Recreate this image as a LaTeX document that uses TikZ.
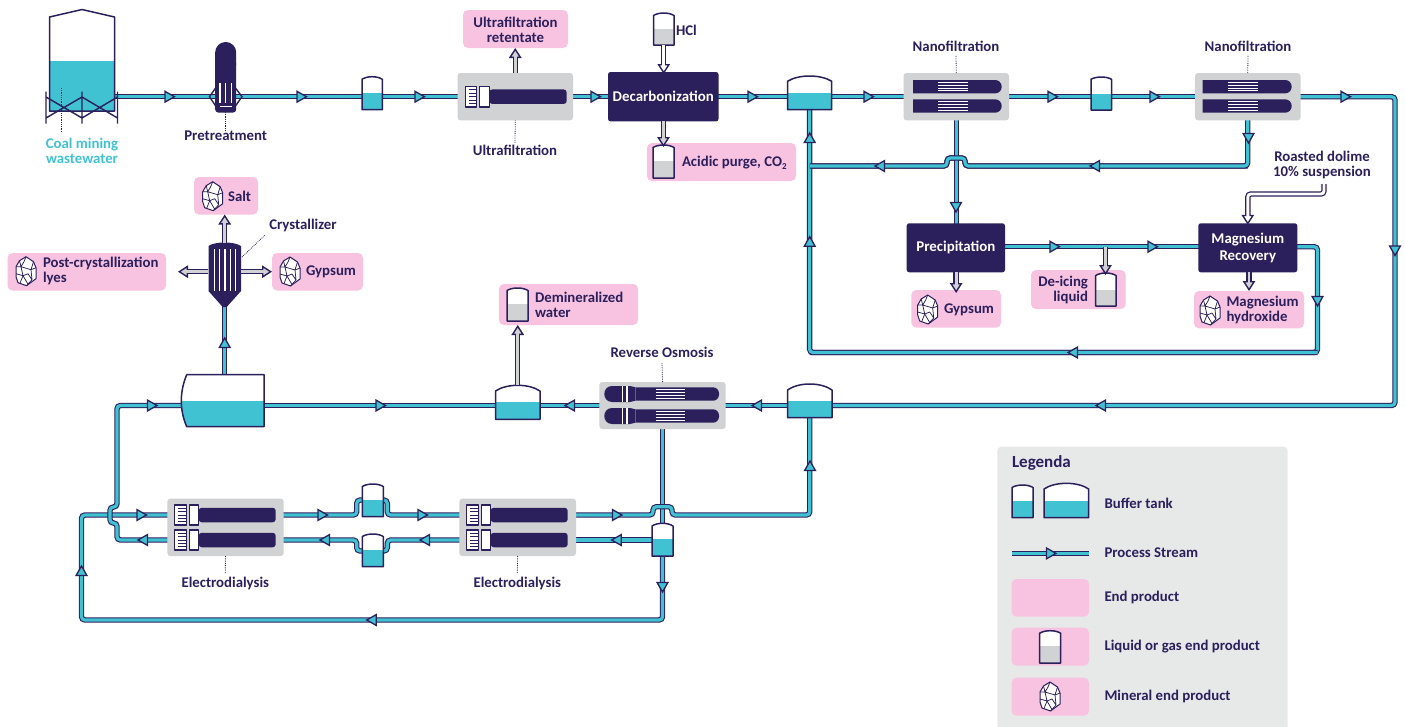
\documentclass[tikz,border=0pt]{standalone}
\usepackage{fontspec}
\setmainfont{Carlito}
\usetikzlibrary{arrows.meta,calc}
\definecolor{ink}{HTML}{2B1F5C}
\definecolor{aqua}{HTML}{41C2D3}
\definecolor{greyb}{HTML}{D1D2D3}
\definecolor{pinkb}{HTML}{F8C3E1}
\definecolor{legbg}{HTML}{E7E8E8}
\pgfdeclarelayer{bg}\pgfdeclarelayer{pipes}\pgfdeclarelayer{top}
\pgfsetlayers{bg,pipes,main,top}
\newcommand\lf{\bfseries\fontsize{14.8}{14.8}\selectfont}
\newcommand\wf{\bfseries\fontsize{14.9}{15.6}\selectfont}
\tikzset{
 ghost/.style={inner sep=0pt,outer sep=0pt},
 lbl/.style={ghost,text=ink,font=\lf,align=center},
 lbll/.style={ghost,text=ink,font=\lf,align=left,anchor=west},
 lblr/.style={ghost,text=ink,font=\lf,align=right,anchor=east},
 pinkbox/.style={ghost,fill=pinkb,rounded corners=5pt},
 greybox/.style={ghost,fill=greyb,rounded corners=3pt},
 darkbox/.style={ghost,fill=ink,rounded corners=2.5pt,text=white,font=\wf,align=center},
 legbox/.style={ghost,fill=legbg,rounded corners=4pt},
 pipeo/.style={draw=ink,line width=5.4pt,rounded corners=3.4pt},
 pipei/.style={draw=aqua,line width=3.2pt,rounded corners=3.4pt},
 tankline/.style={draw=ink,line width=1.5pt,line join=round},
 flowhead/.style={draw=ink,fill=aqua,line width=1.3pt,line join=miter},
 leader/.style={draw=ink,line width=.8pt,dash pattern=on .8pt off 1pt},
 thinink/.style={draw=ink,line width=1.4pt},
}
\newcommand\bx[7]{\pgfmathsetmacro\bw{#5-(#3)}\pgfmathsetmacro\bh{#6-(#4)}\pgfmathsetmacro\bcx{(#3+#5)/2}\pgfmathsetmacro\bcy{(#4+#6)/2}\node[#1,minimum width=\bw pt,minimum height=\bh pt] (#2) at (\bcx,\bcy) {#7};}
% name,x1,x2,ytop,yeave,ybot,ywater,pipey,fill
\newcommand\tank[9]{\pgfmathsetmacro\tcx{(#2+#3)/2}\pgfmathsetmacro\tw{#3-(#2)}\pgfmathsetmacro\th{2*(#6-(#8))}%
 \pgfmathsetmacro\ca{#2+.25*\tw}\pgfmathsetmacro\cb{#2+.75*\tw}\pgfmathsetmacro\cy{#5-(#5-(#4))/.75}%
 \node[ghost,minimum width=\tw pt,minimum height=\th pt] (#1) at (\tcx,#8) {};
 \coordinate (#1-top) at (\tcx,#4);
 \fill[white] (#2,#5) .. controls (\ca,\cy) and (\cb,\cy) .. (#3,#5) -- (#3,#6) -- (#2,#6) -- cycle;
 \fill[#9] (#2,#7) rectangle (#3,#6);
 \draw[tankline] (#2,#5) .. controls (\ca,\cy) and (\cb,\cy) .. (#3,#5) -- (#3,#6) -- (#2,#6) -- cycle;}
\newcommand\pipeO[1]{\begin{pgfonlayer}{pipes}\draw[pipeo] #1;\end{pgfonlayer}}
\newcommand\pipeI[1]{\begin{pgfonlayer}{pipes}\draw[pipei] #1;\end{pgfonlayer}}
\newcommand\pipe[1]{\pipeO{#1}\pipeI{#1}}
\newcommand\flowR[2]{\begin{pgfonlayer}{top}\pgfmathsetmacro\fb{#1-9.5}\draw[flowhead] (\fb,#2-5.4) -- (#1,#2) -- (\fb,#2+5.4) -- cycle;\end{pgfonlayer}}
\newcommand\flowL[2]{\begin{pgfonlayer}{top}\pgfmathsetmacro\fb{#1+9.5}\draw[flowhead] (\fb,#2-5.4) -- (#1,#2) -- (\fb,#2+5.4) -- cycle;\end{pgfonlayer}}
\newcommand\flowD[2]{\begin{pgfonlayer}{top}\pgfmathsetmacro\fb{#2-9.5}\draw[flowhead] (#1-5.4,\fb) -- (#1,#2) -- (#1+5.4,\fb) -- cycle;\end{pgfonlayer}}
\newcommand\flowU[2]{\begin{pgfonlayer}{top}\pgfmathsetmacro\fb{#2+9.5}\draw[flowhead] (#1-5.4,\fb) -- (#1,#2) -- (#1+5.4,\fb) -- cycle;\end{pgfonlayer}}
\newcommand\garrow[2]{\begin{pgfonlayer}{top}
 \draw[ink,line width=5.4pt,rounded corners=3pt,-{Triangle[length=10pt,width=12.5pt,fill=#1,line width=1.4pt]}] #2;
 \draw[#1,line width=2.9pt,rounded corners=3pt,shorten >=8pt] #2;\end{pgfonlayer}}
\newcommand\crystal[2]{\begin{scope}[shift={(#1,#2)},draw=ink,line width=.75pt,line join=round]
 \draw[fill=white,line width=1pt] (10,0) -- (17.5,5) -- (20,11) -- (20,22) -- (10.5,29) -- (2,26) -- (0,20) -- (0,10) -- (3.5,4) -- cycle;
 \draw (3.5,4) -- (5,10) -- (15,13) -- (17.5,5) (5,10) -- (0,10) (15,13) -- (20,11) (15,13) -- (16,23) -- (10.5,29) (5,10) -- (7,19) -- (12,27.5) (0,17) -- (7,19) -- (12,17) -- (16,23) (7,19) -- (4,26.5) (10,0) -- (8,5) -- (5,10);
 \end{scope}}
\newcommand\comb[4]{\draw[tankline,fill=white] (#1,#3) rectangle (#2,#4);
 \foreach \k in {1,...,5}{\pgfmathsetmacro\ty{#3+(#4-(#3))*\k/6}\draw[draw=ink,line width=1pt] (#1+3.5,\ty) -- (#2,\ty);}}
% name, comb x1,x2, white x1,x2, xend, yc
\newcommand\cmod[7]{\pgfmathsetmacro\mw{#6-(#5)}\pgfmathsetmacro\mx{(#5+#6)/2}%
 \node[ghost,fill=ink,rounded corners=3pt,minimum width=\mw pt,minimum height=14.5pt] (#1) at (\mx,#7) {};
 \comb{#2}{#3}{#7-10.2}{#7+10.2}
 \draw[tankline,fill=white] (#4,#7-10.2) rectangle (#5,#7+10.2);}
\newcommand\stripes[3]{\foreach \d in {-4.2,-1.4,1.4,4.2}{\draw[white,line width=1pt] (#1,#3+\d) -- (#2,#3+\d);}}
\newcommand\nfmod[3]{\fill[ink] (#1,#3-6.7) [rounded corners=6.6pt] -- (#2,#3-6.7) -- (#2,#3+6.7) [sharp corners] -- (#1,#3+6.7) -- cycle;}
\newcommand\romod[1]{\fill[ink] (612,#1-8) .. controls (607,#1-8) and (604.3,#1-4) .. (604.3,#1) .. controls (604.3,#1+4) and (607,#1+8) .. (612,#1+8) -- (630,#1+8) -- (635.5,#1+6.7) -- (635.5,#1-6.7) -- (630,#1-8) -- cycle;
 \fill[ink] (636,#1-6.7) -- (636,#1+6.7) [rounded corners=6pt] -- (719,#1+6.7) -- (719,#1-6.7) [sharp corners] -- cycle;
 \draw[white,line width=1.2pt] (622.7,#1-8) -- (622.7,#1+8) (626.9,#1-8) -- (626.9,#1+8);
 \stripes{655.7}{685}{#1}}
\begin{document}
\begin{tikzpicture}[x=1pt,y=-1pt]
\useasboundingbox (0,0) rectangle (1405,726);
\coordinate (lineP) at (0,246.7);
\coordinate (side) at (0,166);
\coordinate (ret) at (1317.5,352.5);
\coordinate (east) at (1395,96.7);
\coordinate (bot) at (81.5,620);
\coordinate (rowS) at (810,515);

% ---------- legend background
\begin{pgfonlayer}{bg}
\bx{legbox}{legend}{997.3}{446.7}{1287.7}{735}{}
\end{pgfonlayer}

% ---------- silo
\node[ghost,minimum width=65pt,minimum height=60pt] (silo) at (82,96.7) {};
\fill[white] (49.5,17) -- (82,9.5) -- (114.5,17) -- (114.5,111) -- (49.5,111) -- cycle;
\fill[aqua] (49.5,61) rectangle (114.5,111);
\draw[tankline] (49.5,17) -- (82,9.5) -- (114.5,17) -- (114.5,111) -- (49.5,111) -- cycle;
\draw[thinink] (46,91.5) -- (46,123.5) (82,91.5) -- (82,123.5) (117.5,91.5) -- (117.5,123.5)
 (46,97) -- (82,118) (46,118) -- (82,97) (82,97) -- (117.5,118) (82,118) -- (117.5,97);
\coordinate (siloL1) at (61,88); \coordinate (siloL2) at (61,133);
\begin{pgfonlayer}{top}\draw[leader] (siloL1) -- (siloL2);\end{pgfonlayer}
\node[ghost,text=aqua,font=\lf,align=center] (coal) at (82,151) {Coal mining\\wastewater};

% ---------- pretreatment
\node[ghost,minimum width=21pt,minimum height=110pt] (pre) at (225.7,96.7) {};
\coordinate (preL) at (225.7,112);
\draw[thinink] (217,86) -- (209.5,96.7) -- (217,108) (234,86) -- (242,96.7) -- (234,108);
\fill[ink,rounded corners=10.4pt] (215.2,75) -- (215.2,42) -- (236.2,42) -- (236.2,75) [sharp corners] -- cycle;
\fill[ink,rounded corners=3pt] (215.2,60) -- (215.2,112.5) -- (236.2,112.5) -- (236.2,60) [sharp corners] -- cycle;
\draw[white,line width=1.3pt] (220,83) -- (220,103) (225.7,83) -- (225.7,103) (231.5,83) -- (231.5,103);
\draw[white,line width=1.4pt] (219.5,106.3) -- (232,106.3);
\node[lbl] (preT) at (225.7,135.5) {Pretreatment};
\draw[leader] (preL) -- (preT.north);

% ---------- first row
\tank{t1}{362}{382.3}{76.7}{79.3}{109.7}{93}{96.7}{aqua}
\bx{greybox}{uf}{457.5}{73}{573}{120.4}{}
\cmod{ufm}{465.3}{476.7}{479.3}{489.3}{566.7}{96.7}
\node[lbl] (ufT) at (515,150.5) {Ultrafiltration};
\draw[leader] (uf.south) -- ($(ufT.north)+(0,-2)$);
\bx{pinkbox}{retb}{463}{10}{568}{48}{}
\node[lbl] (retT) at (515.5,29.5) {Ultrafiltration\\retentate};
\garrow{greyb}{(uf.north) -- (uf.north |- retb.south)}

\bx{darkbox}{decarb}{608}{72}{718.5}{121.4}{Decarbonization}
\tank{hcl}{653.5}{674}{13}{15.5}{45}{29}{30}{greyb}
\node[lbll] (hclT) at (676,30) {HCl};
\garrow{white}{(hcl.south) -- ($(hcl.south |- decarb.north)+(0,2)$)}
\bx{pinkbox}{acidb}{647}{143}{796}{181}{}
\tank{acid}{653}{674}{145}{147.5}{178}{161}{162}{greyb}
\node[lbll] (acidT) at (682,163) {Acidic purge, CO\raisebox{-2.5pt}{\fontsize{9}{9}\selectfont 2}};
\garrow{greyb}{(acid-top |- decarb.south) -- ($(acid-top)+(0,2)$)}

\tank{t2}{787.5}{831.7}{76}{81.3}{109.7}{93.3}{96.7}{aqua}
\bx{greybox}{nf1}{903.5}{73}{1009}{120.4}{}
\nfmod{913}{1001.7}{86.7}\stripes{938}{967.7}{86.7}
\nfmod{913}{1001.7}{106}\stripes{938}{967.7}{106}
\node[lbl] (nf1T) at (956,46.5) {Nanofiltration};
\draw[leader] (nf1.north) -- ($(nf1T.south)+(0,3)$);
\tank{t3}{1091}{1111.5}{77}{79.3}{110}{94}{96.7}{aqua}
\bx{greybox}{nf2}{1195}{73}{1300.5}{120.4}{}
\nfmod{1202.7}{1291.7}{86.7}\stripes{1228}{1257.7}{86.7}
\nfmod{1202.7}{1291.7}{106}\stripes{1228}{1257.7}{106}
\node[lbl] (nf2T) at (1248,46.5) {Nanofiltration};
\draw[leader] (nf2.north) -- ($(nf2T.south)+(0,3)$);

\pipe{(silo.center) -- (pre.center) -- (t1.center) -- (uf.center)}
\pipe{(uf.center) -- (decarb.center) -- (t2.center) -- (nf1.center) -- (t3.center) -- (nf2.center)}
\flowR{174.5}{96.7}\flowR{306.5}{96.7}\flowR{424.5}{96.7}\flowR{600.5}{96.7}\flowR{757.5}{96.7}\flowR{873.5}{96.7}\flowR{1057.5}{96.7}\flowR{1159.5}{96.7}\flowR{1350.5}{96.7}

% ---------- precipitation section
\bx{darkbox}{prec}{906.7}{223.3}{1005}{272.3}{Precipitation}
\bx{darkbox}{mg}{1198.3}{223.3}{1297.3}{272.3}{Magnesium\\[1pt]Recovery}
\bx{pinkbox}{gypb}{911.3}{290}{1001}{327.7}{}
\crystal{917.7}{295}
\node[lbll] (gypT) at (944,310) {Gypsum};
\garrow{greyb}{(gypb.north |- prec.south) -- ($(gypb.north)+(0,3)$)}
\bx{pinkbox}{deib}{1031}{270}{1125.7}{309}{}
\tank{dei}{1095.7}{1116}{273}{275.5}{306}{290}{290}{greyb}
\node[lblr] (deiT) at (1088,290) {De-icing\\liquid};
\bx{pinkbox}{mghb}{1194}{291}{1304}{328.3}{}
\crystal{1200}{296}
\node[lbll] (mghT) at (1226.5,310) {Magnesium\\hydroxide};
\garrow{greyb}{(mghb.north |- mg.south) -- (mghb.north)}
\node[lbl] (roast) at (1322,165) {Roasted dolime\\10\% suspension};
\coordinate (roastS) at (1324,184);
\garrow{white}{(roastS) -- ++(0,10) -| ($(mg.north)+(0,1.5)$)}
\coordinate (brn) at (1105.5,246.7);
\garrow{greyb}{(brn) -- ($(brn |- dei-top)+(0,2)$)}

\pipeO{(nf2.center) -- (east) -- (east |- 0,405.5) -- (832,405.5)}
\pipeI{(nf2.center) -- (east) -- (east |- 0,405.5) -- (832,405.5)}
\flowD{1395}{255.5}\flowL{1096}{405.5}

\pipe{(prec.center |- lineP) -- (mg.center |- lineP)}
\flowR{1059.5}{246.7}\flowR{1157.5}{246.7}
\pipe{(mg.center |- lineP) -- (ret |- lineP) -- (ret) -- (t2.center |- ret)}
\flowD{1317.5}{306}\flowL{1068}{352.5}
\pipeO{(nf2.center) -- (nf2.center |- side) -- (965,166) -- (965,158) -- (947,158) -- (947,166) -- (t2.center |- side)}
\pipeO{(t2.center) -- (t2.center |- ret) -- (ret)}
\pipeI{(t2.center) -- (t2.center |- ret) -- (ret)}
\pipe{(nf1.center) -- (nf1.center |- prec.center)}
\pipeO{(nf2.center |- side) -- (965,166) -- (965,158) -- (947,158) -- (947,166) -- (t2.center |- side)}
\pipeI{(nf2.center) -- (nf2.center |- side) -- (965,166) -- (965,158) -- (947,158) -- (947,166) -- (t2.center |- side)}
\flowD{1248.5}{143}\flowL{1090}{166}\flowL{875}{166}\flowD{956}{212}\flowU{809.7}{133}\flowU{809.7}{236.7}

% ---------- crystallizer and its products
\node[ghost,minimum width=32.5pt,minimum height=57pt] (cry) at (224.7,271.7) {};
\fill[ink] (208.5,246) .. controls (215,241.3) and (234,241.3) .. (241,246) -- (241,291) -- (226.7,307) -- (222.7,307) -- (208.5,291) -- cycle;
\draw[white,line width=1.2pt] (214.4,249) -- (214.4,290.7) (219.7,249) -- (219.7,290.7) (225,249) -- (225,290.7) (230.3,249) -- (230.3,290.7) (235.6,249) -- (235.6,290.7);
\node[lbl] (cryT) at (303,225.5) {Crystallizer};
\coordinate (cryL) at (242,257);
\draw[leader] (cryL) -- ($(cryT.south west)+(-4,3)$);
\bx{pinkbox}{saltb}{194}{177}{258}{214.5}{}
\crystal{202.7}{181.7}
\node[lbll] (saltT) at (228,196.5) {Salt};
\bx{pinkbox}{gypc}{272}{253}{363}{290.5}{}
\crystal{280}{257}
\node[lbll] (gyp2T) at (306,272) {Gypsum};
\bx{pinkbox}{lyes}{7.5}{253}{166}{290.5}{}
\crystal{16}{256.7}
\node[lbll] (lyesT) at (43,271) {Post-crystallization\\lyes};
\garrow{greyb}{(cry.north) -- (cry.north |- saltb.south)}
\garrow{greyb}{(cry.west) -- ($(cry.west -| lyes.east)+(12,0)$)}
\garrow{greyb}{(cry.east) -- (cry.east -| gypc.west)}

% ---------- reverse osmosis row
\tank{t4}{787.5}{832}{384}{390}{417.7}{401}{405.5}{aqua}
\bx{greybox}{ro}{599.3}{382}{725.7}{429}{}
\romod{394}\romod{416}
\node[lbl] (roT) at (662,352.5) {Reverse Osmosis};
\draw[leader] (ro.north) -- ($(roT.south)+(0,5)$);
\tank{t5}{495.5}{540}{385.3}{391}{419.3}{402}{405.5}{aqua}
\bx{pinkbox}{demb}{499}{284}{638}{325}{}
\tank{dem}{507}{528}{288}{290.5}{321}{304}{304}{greyb}
\node[lbll] (demT) at (535,304.5) {Demineralized\\water};
\garrow{greyb}{(t5-top) -- (t5-top |- demb.south)}
\node[ghost,minimum width=84pt,minimum height=42pt] (big) at (223,405.5) {};
\coordinate (big-top) at (224.7,374.7);
\fill[white] (186.7,374.7) -- (264,374.7) -- (264,426.7) -- (186.7,426.7) .. controls (179.5,410) and (179.5,392) .. (186.7,374.7);
\begin{scope}
\clip (186.7,374.7) -- (264,374.7) -- (264,426.7) -- (186.7,426.7) .. controls (179.5,410) and (179.5,392) .. (186.7,374.7);
\fill[aqua] (170,400.7) rectangle (270,430);
\end{scope}
\draw[tankline] (186.7,374.7) -- (264,374.7) -- (264,426.7) -- (186.7,426.7) .. controls (179.5,410) and (179.5,392) .. cycle;
\pipe{(t4.center) -- (ro.center) -- (t5.center) -- (big.center)}
\pipe{(big-top) -- (cry.center)}
\flowL{752}{405.5}\flowL{565}{405.5}\flowR{385.5}{405.5}\flowU{224.7}{338}

% ---------- electrodialysis
\bx{greybox}{ed1}{167.3}{498.7}{283.7}{556}{}
\cmod{ed1u}{174.3}{186.7}{189.3}{198.7}{275.7}{515}
\cmod{ed1l}{174.3}{186.7}{189.3}{198.7}{275.7}{540}
\node[lbl] (ed1T) at (225.3,583) {Electrodialysis};
\draw[leader] (ed1.south) -- ($(ed1T.north)+(0,-3)$);
\bx{greybox}{ed2}{459.3}{498.7}{576}{556}{}
\cmod{ed2u}{466.7}{478.7}{481.7}{490.7}{567.7}{515}
\cmod{ed2l}{466.7}{478.7}{481.7}{490.7}{567.7}{540}
\node[lbl] (ed2T) at (517.3,583) {Electrodialysis};
\draw[leader] (ed2.south) -- ($(ed2T.north)+(0,-3)$);
\tank{tA}{362.3}{383.3}{484}{486.5}{516.7}{500}{500}{aqua}
\tank{tB}{362.3}{383.3}{534}{536.5}{566.7}{550}{551}{aqua}
\tank{tC}{652}{673}{523.3}{526}{556}{539}{540}{aqua}

\pipe{(ro.center) -- (tC.center)}
\pipe{(t4.center) -- (t4.center |- rowS) -- (672,515) -- (672,506.7) -- (653,506.7) -- (653,515) -- (ed2u.center)}
\pipe{(tC.center) -- (ed2l.center)}
\pipe{(tC.center) -- (tC.center |- bot) -- (bot) -- (bot |- ed1u.center) -- (ed1u.center)}
\pipe{(big.center) -- (117,405.5) -- (117,507) -- (110,507) -- (110,523) -- (117,523) -- (117,540) -- (ed1l.center)}
\pipe{(ed1u.center) -- (356.7,515) -- (356.7,500) -- (tA.center) -- (387.3,500) -- (387.3,515) -- (ed2u.center)}
\pipe{(ed2l.center) -- (387.3,540) -- (387.3,551) -- (tB.center) -- (356.7,551) -- (356.7,540) -- (ed1l.center)}
\flowR{157}{405.5}
\flowR{146.5}{515}\flowL{138}{540}\flowR{327.5}{515}\flowL{320}{540}\flowR{427.5}{515}\flowL{420}{540}
\flowR{622}{515}\flowL{611.7}{540}\flowD{662.5}{592}\flowL{366.7}{620}\flowU{81.5}{566}\flowU{810}{461}

% ---------- legend
\node[lbll,font=\bfseries\fontsize{17}{17}\selectfont] (legT) at (1012,463) {Legenda};
\tank{ls}{1012}{1033}{485}{487.5}{517.7}{501}{501}{aqua}
\tank{lb}{1044}{1088.7}{483.3}{489}{517.7}{501}{501}{aqua}
\node[lbll] (l1) at (1104.5,503) {Buffer tank};
\coordinate (lpA) at (1012,553.4); \coordinate (lpB) at (1088.5,553.4);
\pipe{(lpA) -- (lpB)}
\flowR{1056}{553.4}
\node[lbll] (l2) at (1104.5,552.5) {Process Stream};
\bx{pinkbox}{lp1}{1011.5}{579}{1089}{616.7}{}
\node[lbll] (l3) at (1104.5,597.5) {End product};
\bx{pinkbox}{lp2}{1011.5}{627.7}{1089}{665.7}{}
\tank{lt}{1039.7}{1060.7}{630.7}{633.2}{663}{646}{646}{greyb}
\node[lbll] (l4) at (1104.5,647) {Liquid or gas end product};
\bx{pinkbox}{lp3}{1011.5}{677.7}{1089}{715.7}{}
\crystal{1040}{682}
\node[lbll] (l5) at (1104.5,696) {Mineral end product};
\end{tikzpicture}
\end{document}
